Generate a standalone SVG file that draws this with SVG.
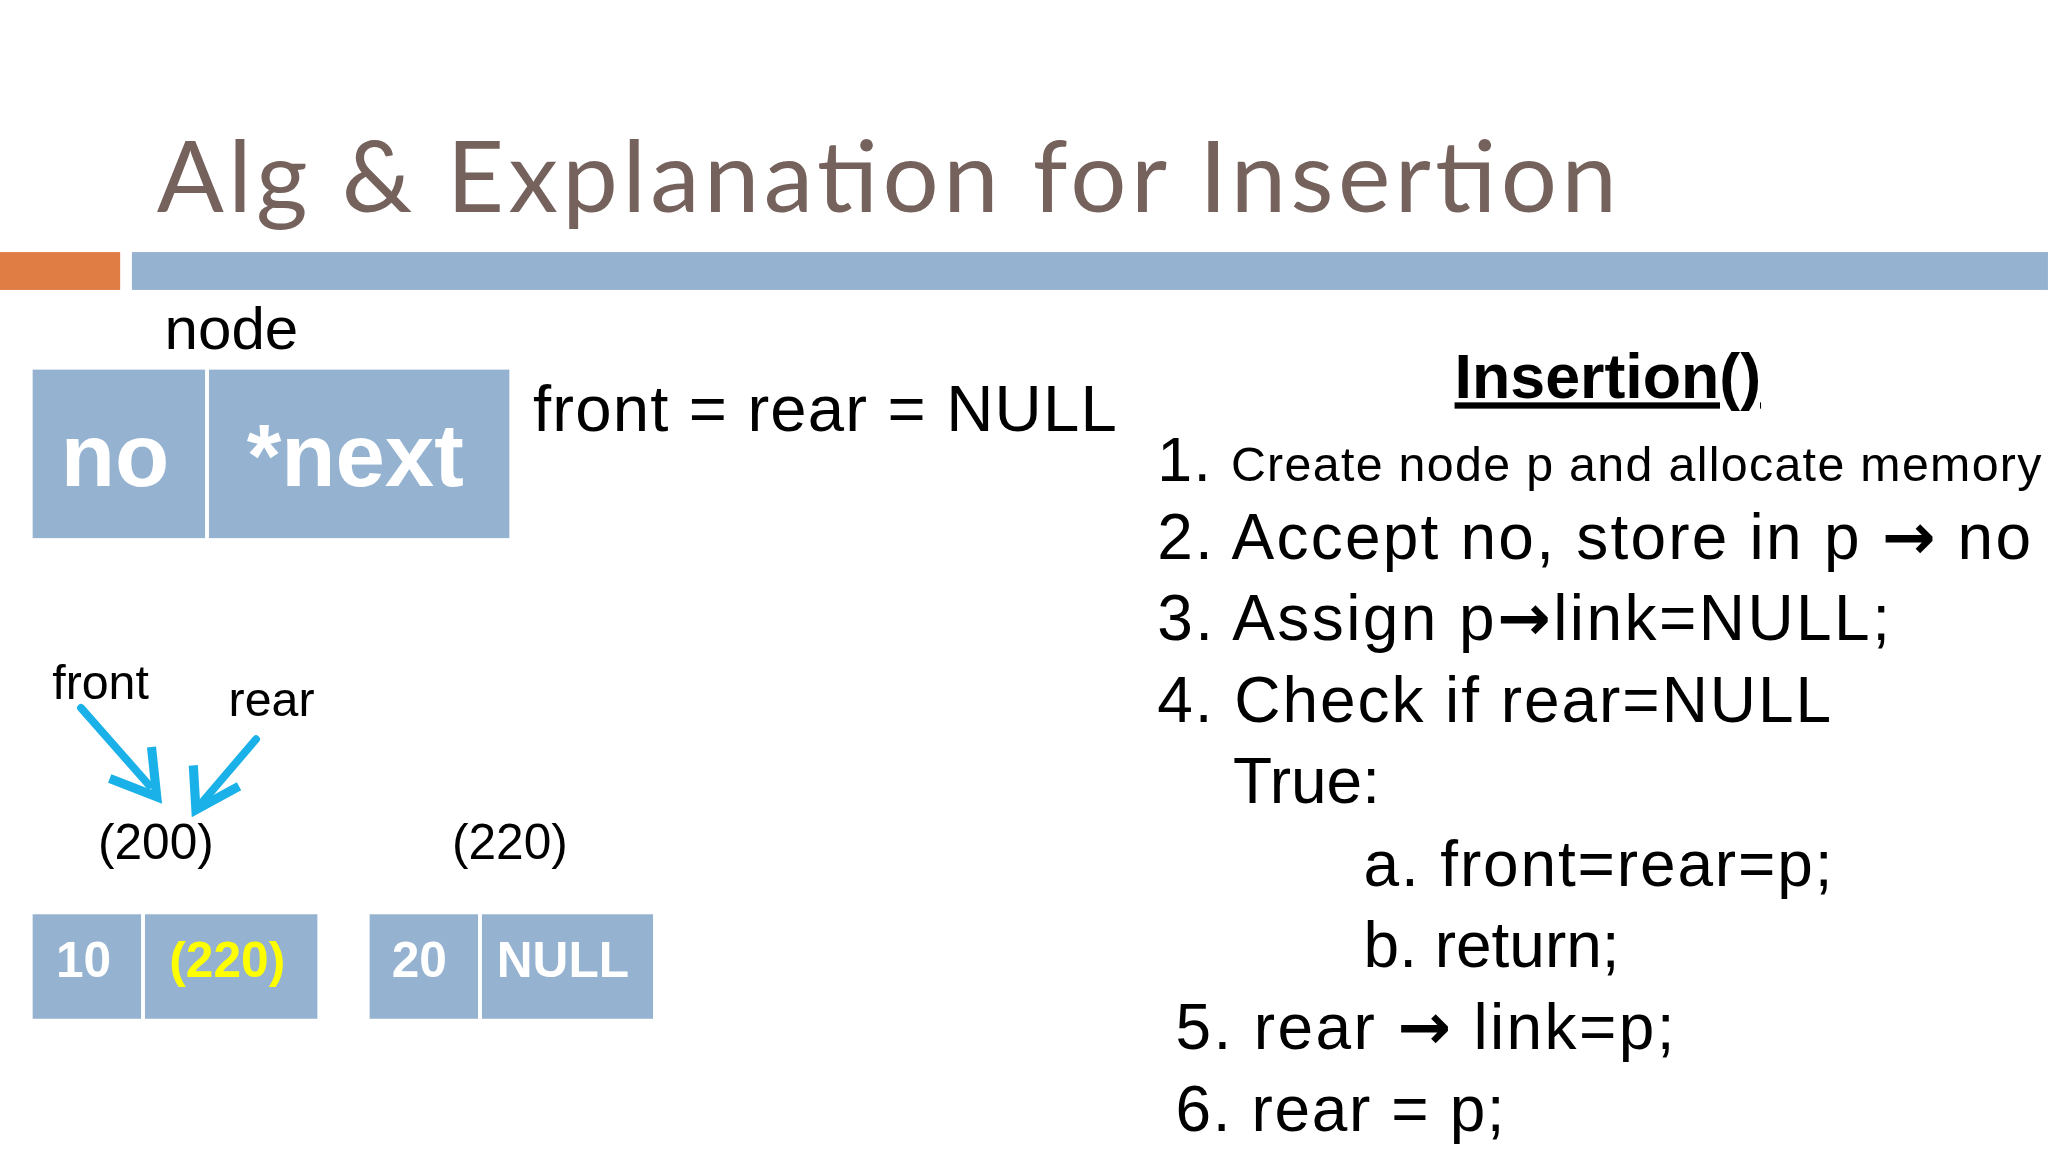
<svg xmlns="http://www.w3.org/2000/svg" width="2048" height="1152" viewBox="0 0 2048 1152">
<defs>
<style>
.t{font-family:"Liberation Sans",Arial,sans-serif;fill:#000}
.box{fill:#95b3d0}
.bw{font-family:"Liberation Sans",Arial,sans-serif;font-weight:bold;fill:#fff}
.arr{stroke:#1ab0e8;stroke-width:6;fill:none;stroke-linecap:round}
.ar{font-family:"DejaVu Sans",sans-serif;font-weight:bold}
</style>
<marker id="ah" viewBox="0 0 10 10" refX="8" refY="5" markerWidth="4" markerHeight="4" orient="auto" markerUnits="strokeWidth"><path d="M1,1 L8,5 L1,9" fill="none" stroke="#1ab0e8" stroke-width="2"/></marker>
</defs>
<rect width="2048" height="1152" fill="#fff"/>
<g transform="scale(1.3061)">
<g id="title">
<text x="120" y="162" font-family="Lato,'Open Sans',sans-serif" font-size="76" fill="#76625c" textLength="1118" lengthAdjust="spacing">Alg &amp; Explanation for Insertion</text>
<rect x="0" y="193" width="92" height="29" fill="#e07d45"/>
<rect x="101" y="193" width="1467" height="29" fill="#95b3d0"/>
</g>
<g id="node-struct">
<text class="t" x="126" y="267" font-size="46">node</text>
<rect class="box" x="25" y="283" width="132" height="129"/>
<rect class="box" x="160" y="283" width="230" height="129"/>
<text class="bw" x="88" y="372" font-size="68" text-anchor="middle">no</text>
<text class="bw" x="272" y="372" font-size="68" text-anchor="middle">*next</text>
</g>
<text class="t" x="408" y="330" font-size="50" textLength="447" lengthAdjust="spacing">front = rear = NULL</text>
<g id="alg">
<text class="t" x="1231" y="305" font-size="48" font-weight="bold" text-anchor="middle" text-decoration="underline">Insertion()</text>
<text class="t" x="886" y="368" font-size="48" textLength="677" lengthAdjust="spacing">1. <tspan font-size="37">Create node p and allocate memory</tspan></text>
<text class="t" x="886" y="428" font-size="49" textLength="669" lengthAdjust="spacing">2. Accept no, store in p <tspan class="ar">→</tspan> no</text>
<text class="t" x="886" y="490" font-size="49" textLength="561" lengthAdjust="spacing">3. Assign p<tspan class="ar">→</tspan>link=NULL;</text>
<text class="t" x="886" y="553" font-size="49" textLength="516" lengthAdjust="spacing">4. Check if rear=NULL</text>
<text class="t" x="944" y="615" font-size="49">True:</text>
<text class="t" x="1044" y="678" font-size="49" textLength="359" lengthAdjust="spacing">a. front=rear=p;</text>
<text class="t" x="1044" y="740" font-size="49">b. return;</text>
<text class="t" x="900" y="803" font-size="49" textLength="382" lengthAdjust="spacing">5. rear <tspan class="ar">→</tspan> link=p;</text>
<text class="t" x="900" y="866" font-size="49" textLength="252" lengthAdjust="spacing">6. rear = p;</text>
</g>
<text class="t" x="40" y="535" font-size="37">front</text>
<text class="t" x="175" y="548" font-size="37">rear</text>
<g id="connectors">
<line class="arr" x1="62" y1="542" x2="114" y2="601"/>
<path d="M84,596 L120,610 L116,572" fill="none" stroke="#1ab0e8" stroke-width="7" stroke-linejoin="miter"/>
<line class="arr" x1="196" y1="566" x2="155" y2="614"/>
<path d="M148,586 L150,620 L183,602" fill="none" stroke="#1ab0e8" stroke-width="7" stroke-linejoin="miter"/>
</g>
<text class="t" x="75" y="658" font-size="38">(200)</text>
<text class="t" x="346" y="658" font-size="38">(220)</text>
<g id="n1">
<rect class="box" x="25" y="700" width="83" height="80"/>
<rect class="box" x="111" y="700" width="132" height="80"/>
<text class="bw" x="64" y="748" font-size="38" text-anchor="middle">10</text>
<text class="bw" x="174" y="748" font-size="38" text-anchor="middle" style="fill:#ffff00">(220)</text>
</g>
<g id="n2">
<rect class="box" x="283" y="700" width="83" height="80"/>
<rect class="box" x="369" y="700" width="131" height="80"/>
<text class="bw" x="321" y="748" font-size="38" text-anchor="middle">20</text>
<text class="bw" x="431" y="748" font-size="38" text-anchor="middle">NULL</text>
</g>
</g>
</svg>
